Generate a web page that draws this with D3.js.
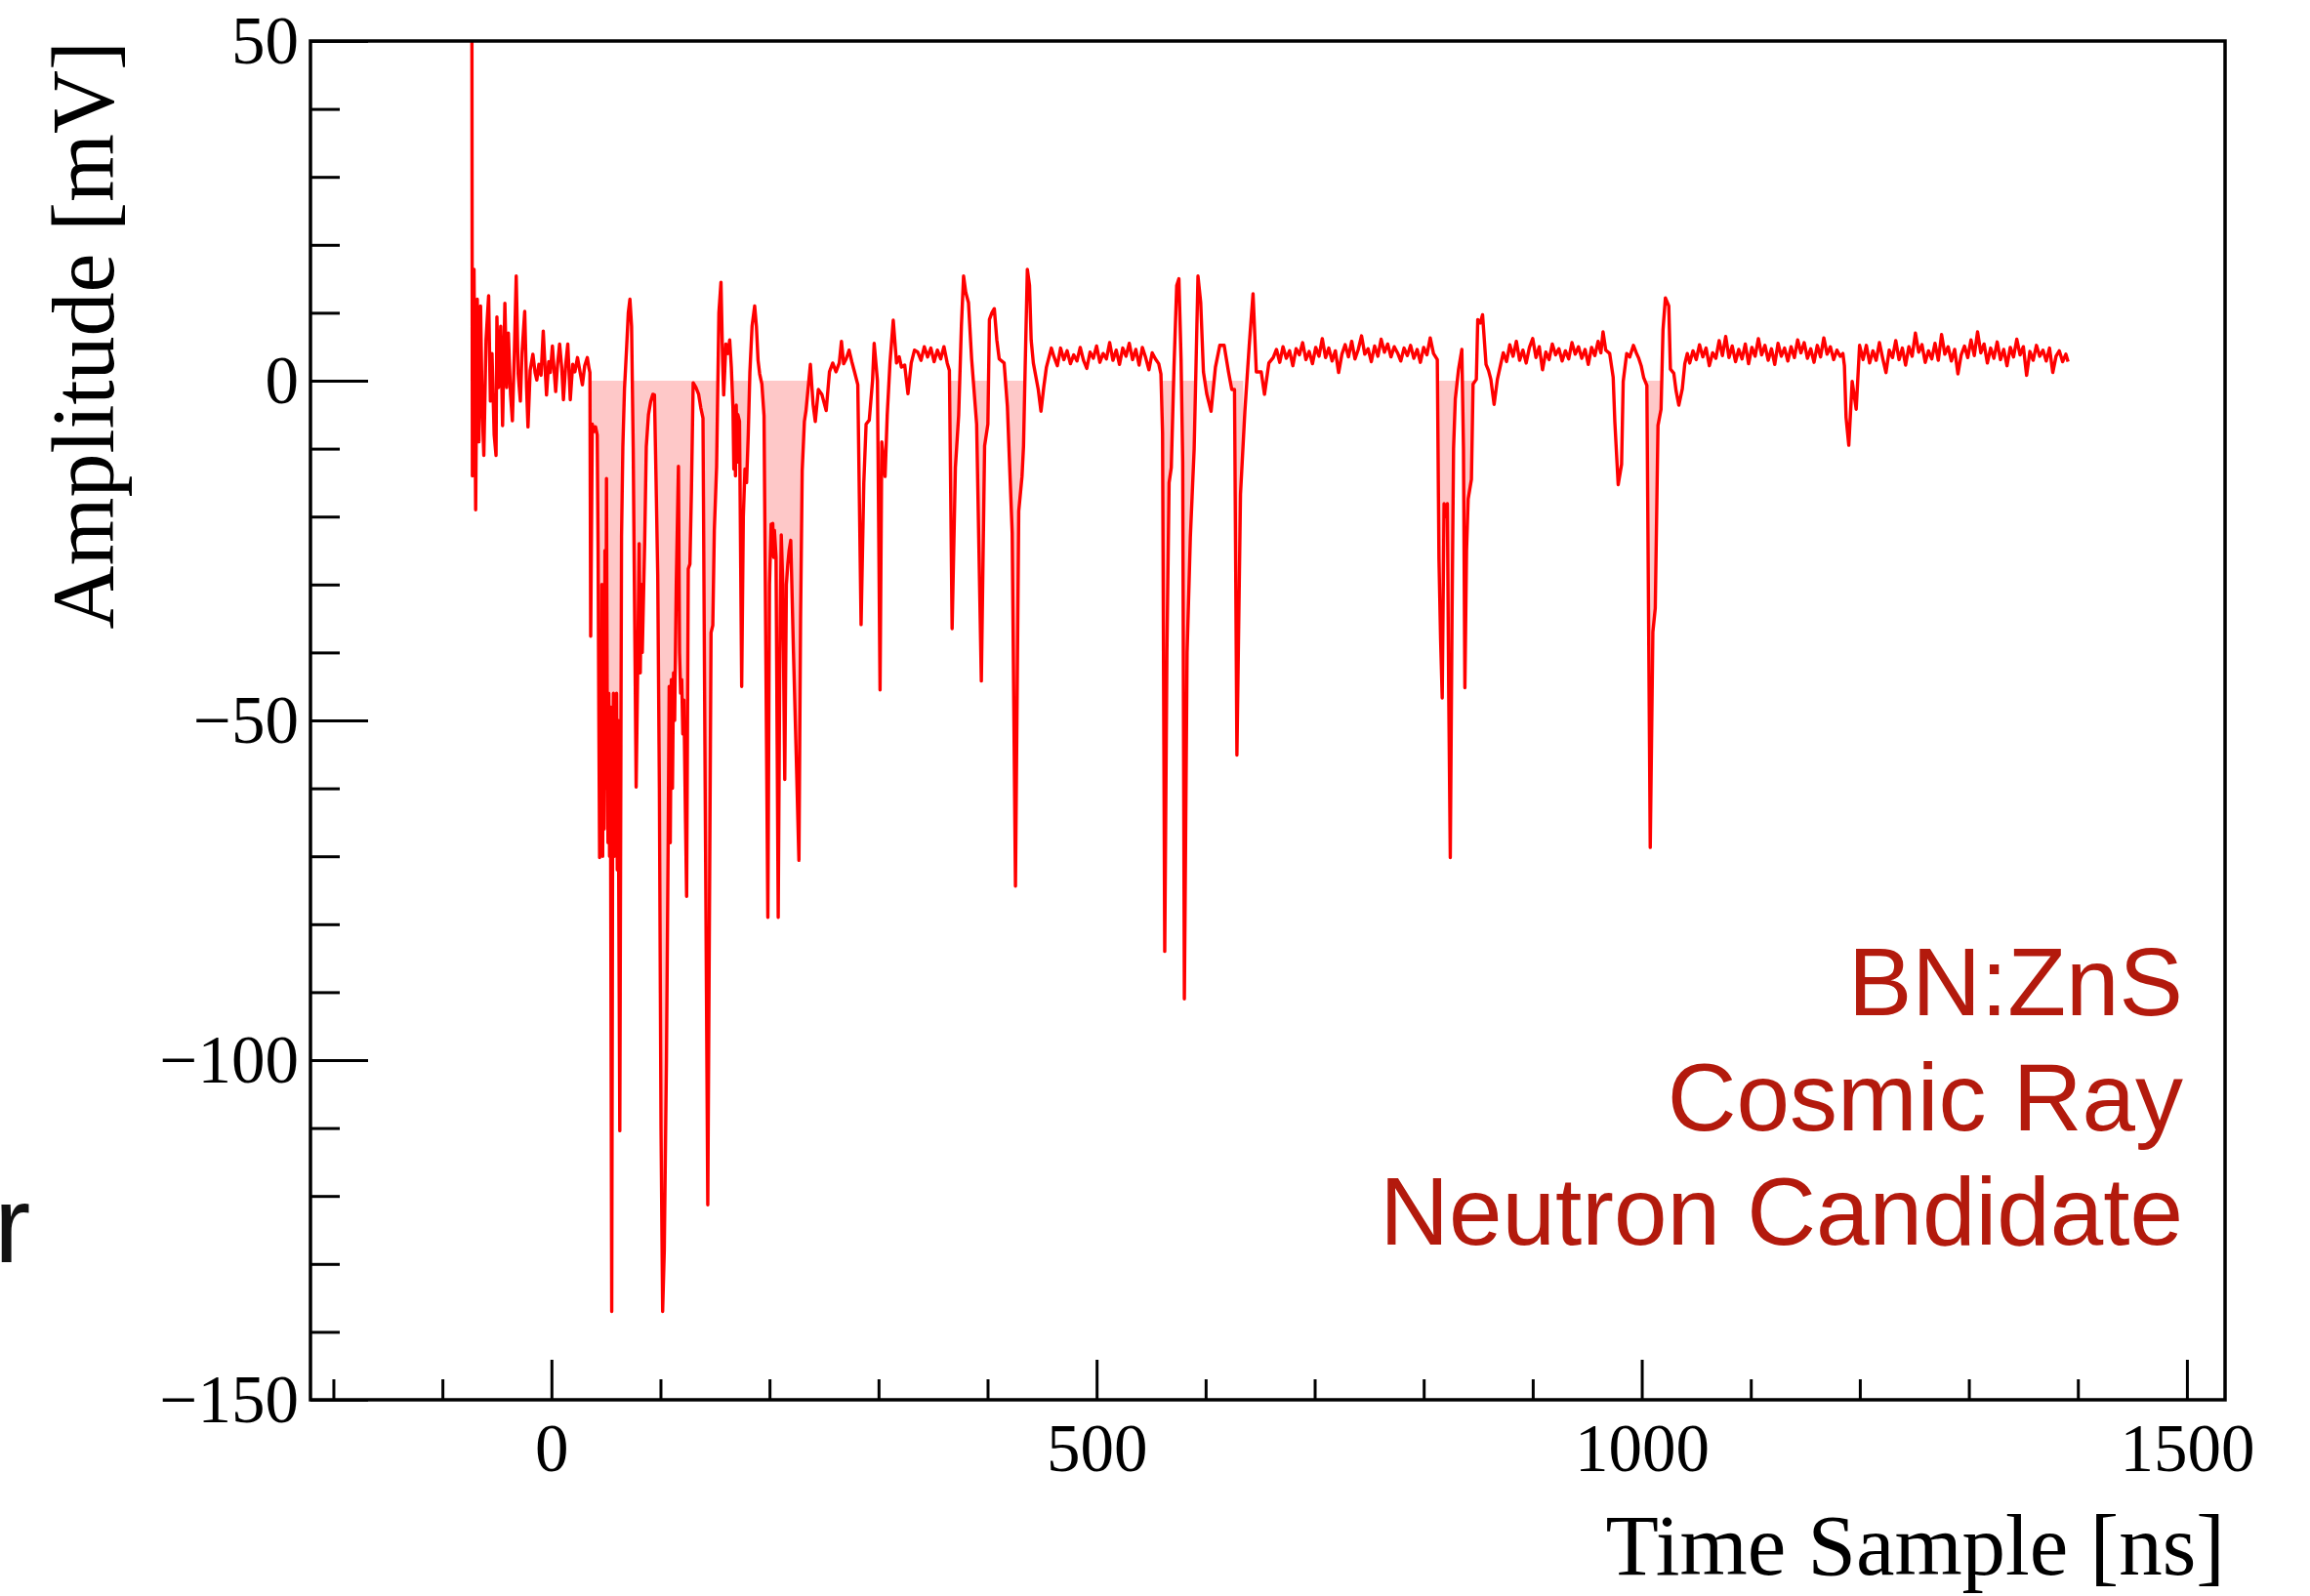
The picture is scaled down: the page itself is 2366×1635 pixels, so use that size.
<!DOCTYPE html>
<html><head><meta charset="utf-8">
<script src="https://cdn.jsdelivr.net/npm/d3@7"></script>
<style>html,body{margin:0;padding:0;background:#fff;}svg{display:block;}</style>
</head><body>
<script>
// ---------------- data (time in ns, amplitude in mV) ----------------
const startRinging = [[-73,60],[-72.5,-14],[-71,16.4],[-69.5,-19],[-68,12],[-66.5,-9],[-65,11],[-63.5,-4],[-62,-11],[-60,6],[-57.6,12.5],[-56,-3],[-54.5,4],[-52.5,-8],[-50.8,-11],[-50,9.4],[-48.5,-1],[-46.5,8],[-44.8,-6.6],[-42.7,11.4],[-41,-1],[-39.5,7],[-37.5,-2],[-35.8,-5.9],[-34,4],[-32.3,15.4],[-30.5,1],[-28.5,-3],[-27,4],[-24.5,10.2],[-22.8,-1],[-21.5,-6.8],[-19.5,1.5],[-17,3.9],[-15,1.2],[-13.4,0.1],[-11.5,2.4],[-9.5,0.8],[-7.5,7.3],[-6,2.5],[-4.5,-2.1],[-2.5,2.8],[-1,1.2],[0.9,5.1],[2.5,1.5],[3.9,-1.6],[5.5,2.2],[7.5,5.4],[9.5,1.8],[11,-2.8],[13,2.2],[15,5.4],[17.3,-2.8],[19.5,2.4],[21.5,1.3],[23.9,3.4],[26,1.5],[28.4,-0.6],[30.5,2.2],[32.9,3.4],[34.5,1.8],[35.3,1.2]];
const burstCluster = [[36,-37.6],[37.5,-6.4],[39,-7.5],[40.5,-6.8],[42,-8],[42.8,-25],[43.5,-50],[44.2,-70.2],[44.9,-45],[45.6,-68],[46.3,-30],[47,-70],[47.7,-40],[48.4,-66],[49.1,-25],[49.8,-60],[50.5,-14.4],[51.2,-50],[51.9,-68],[52.6,-46],[53.3,-70],[54,-48],[55.3,-137],[56.2,-60],[56.9,-46],[57.6,-70],[58.3,-47],[59,-68],[59.7,-46],[60.4,-72],[61.1,-50],[62.7,-110.4],[64.3,-23],[65.5,-9.8],[67,-1.2],[69,5],[70.5,10],[72,12],[73.5,8],[75,-10],[77.7,-59.8],[79,-43.7],[80.5,-24],[81.5,-43],[82.5,-30],[83.3,-40],[84,-35],[85.5,-24],[87,-9.7],[89,-5],[91,-3.1],[93,-2],[94.5,-2.1],[96,-15],[97.5,-28.6],[99,-60],[100.5,-110],[102,-137],[103.5,-128],[105.5,-100],[107,-69.3],[108,-45],[109,-68],[110,-44],[111,-60],[112,-43],[113,-50],[114.5,-30],[116.5,-12.6],[117.5,-40],[118.5,-46],[119.5,-44],[120.5,-52],[121.5,-47],[123,-65],[124,-75.9],[125.5,-27.7],[127,-27],[128.4,-16.3],[130,-0.3],[132.5,-1],[135,-2],[137,-4],[139,-5.5],[141,-60],[143.4,-121.3],[146.4,-37.1],[148,-36],[149.4,-22],[151.5,-12.6],[153.6,10],[155.5,14.5],[157,3],[158,-2.1],[160,5.4],[162,4],[163.5,6],[165,2],[166.5,-4],[167.3,-13],[168,-5],[168.8,-14],[169.5,-3.6],[170.3,-12],[171,-5],[172.5,-6],[174.5,-45],[176,-20],[177.5,-13],[179,-15],[180.5,-8],[182,1.2],[184,8],[186.4,11],[188,8],[189.5,3],[191,1],[193,-0.5],[195,-5.2],[198.5,-79],[200,-30],[201.5,-21.1],[202.3,-25],[203,-21],[203.8,-26],[204.5,-22],[206,-26],[208,-79],[209.5,-40],[210.8,-22.7],[212.2,-30],[214,-58.7],[215.5,-30],[216.8,-27],[218,-25],[219.5,-23.5],[222,-40],[224.5,-55],[227,-70.6],[228.5,-35],[230,-13.2],[232,-6],[233.5,-4.4],[235.5,-1],[237.5,2.4]];
const midPulses = [[240,-3.5],[242,-6],[244.8,-1.3],[248,-2],[252,-4.4],[255,1.3],[258,2.6],[261,1.3],[264,2.6],[266,5.8],[268,2.5],[270.3,3.2],[273,4.5],[275.5,2.8],[278,1.3],[281,-0.6],[284,-35.9],[286.5,-15],[288.6,-6.4],[291.5,-5.8],[294.5,0],[296,5.5],[299,0],[301.4,-45.5],[303,-9],[306,-14.1],[308,-5],[310.5,2.6],[313.5,8.9],[316.5,2.6],[319,3.5],[321,2.0],[324,2.3],[327,-1.9],[330,2.6],[333,4.5],[336,4.2],[339,3],[342,5],[345,3.5],[348,4.8],[351,2.8],[354,4.5],[357,3.2],[360,5],[363,2.6],[365,1.5],[367.5,-36.5],[370.5,-12.8],[373.5,-5.1],[376,8],[378,15.4],[380,13],[382.5,11.5],[385.4,3.2],[390,-6.4],[394.3,-44.2],[397.3,-9.6],[400.3,-6.4],[401.7,9],[404,10],[406.2,10.6],[408.5,6],[410.7,3.2],[415.2,2.6],[418.2,-3.8],[422.6,-22.4],[425.6,-74.4],[428.6,-19.2],[431.6,-14.1],[433,-9.6],[434.5,2],[436.5,16.4],[438.5,14],[440,6],[442,2.6],[446.5,-1.3],[449,-4.5],[451.5,-1],[454,2],[458.5,4.8]];
const baselineB = [[461,3.5],[464,2.2],[467,4.8],[470,3.1],[473,4.4],[476,2.5],[479,3.8],[482,2.9],[485,4.9],[488,3.0],[491,1.8],[494,4.2],[497,3.3],[500,5.1],[503,2.7],[506,4.0],[509,3.2],[512,5.6],[515,3.0],[518,4.5],[521,2.4],[524,4.8],[527,3.6],[530,5.5],[533,3.1],[536,4.6],[539,2.3],[542,4.9],[545,3.4],[548,1.6],[551,4.1],[554,3.2],[557,2.5]];
const pulseGroupC = [[559,1],[560.5,-7.7],[562.5,-84],[564.5,-40],[566.5,-15],[568.5,-12.8],[571,2],[573.5,14],[575.5,15],[577.5,3],[579,-12],[580.5,-91],[583,-40],[586,-23],[589.5,-10],[593,15.4],[595.5,11.5],[598,1.3],[601,-1.9],[605,-4.5],[609,2],[613,5.2],[617,5.2],[621,1.3],[624,-1.3],[626.5,-1.3],[628.7,-55.1],[632,-16.7],[636,-4.5],[640,5.2],[643.5,12.8],[646.5,1.3],[651,1.3],[654,-2],[658,2.6]];
const baselineC = [[662,3.4],[665,4.6],[668,2.7],[671,5.0],[674,3.3],[677,4.4],[680,2.2],[683,4.7],[686,3.8],[689,5.6],[692,3.1],[695,4.3],[698,2.5],[701,4.9],[704,3.6],[707,6.2],[710,3.4],[713,4.8],[716,2.9],[719,4.4],[722,1.2],[725,3.9],[728,5.3],[731,3.5],[734,5.8],[737,3.2],[740,4.6],[743,6.6],[746,3.9],[749,4.7],[752,2.8],[755,5.1],[758,3.6],[761,6.1],[764,4.2],[767,5.4],[770,3.5],[773,5.0],[776,4.1],[779,2.9],[782,4.8],[785,3.7],[788,5.2],[791,3.3],[794,4.6],[797,2.7],[800,4.9],[803,3.8],[806,6.3],[809,4.0]];
const pulseGroupD = [[812.5,3.1],[814,-26.2],[815.5,-38],[817,-46.7],[818.7,-18.1],[820.2,-20],[821.7,-18.1],[823,-46.7],[824.4,-70.2],[826,-35],[827.4,-10],[829,-2.7],[832,1.7],[835,4.6],[836.5,-10],[837.8,-45.2],[839.3,-25],[840.8,-17.4],[843.8,-14.5],[845.3,-0.5],[848.3,0.2],[849.6,9],[852,8.5],[854,9.7],[857.2,2.4],[859.5,1.5],[861.6,0.2],[864.6,-3.5],[867.6,0.2],[870.6,2.4]];
const baselineD = [[873,4.1],[876,2.8],[879,5.3],[882,3.6],[885,5.8],[888,3.0],[891,4.5],[894,2.6],[897,4.9],[900,6.2],[903,3.4],[906,5.0],[909,1.6],[912,4.2],[915,3.1],[918,5.4],[921,3.8],[924,4.7],[927,2.9],[930,4.4],[933,3.2],[936,5.6],[939,3.9],[942,5.0],[945,3.3],[948,4.6],[951,2.4],[954,4.9],[957,3.7],[960,5.8],[962.5,4.1],[964.5,7.2],[967,4.5],[970.6,4]];
const pulseGroupE = [[973.8,0.5],[975.3,-6],[978.4,-15.3],[981.5,-12.3],[983,-0.1],[986.2,4],[989,3.5],[992.4,5.2],[995,4.1],[997,3.4],[999.5,2.2],[1001.7,0.5],[1004.7,-0.7],[1007.8,-68.7],[1010.2,-37],[1012.4,-33.5],[1014.9,-6.6],[1017.7,-4.2],[1019.5,7.5],[1021.7,12.2],[1024.8,11],[1026.3,1.7],[1029.4,1.1],[1031.5,-1.5],[1034,-3.6],[1037.2,-1.2],[1039.5,2.5],[1041.8,4]];
const baselineE = [[1044,2.6],[1047,4.4],[1050,3.1],[1053,5.3],[1056,3.5],[1059,4.8],[1062,2.2],[1065,4.1],[1068,3.3],[1071,5.9],[1074,3.7],[1077,6.5],[1080,3.4],[1083,5.1],[1086,2.8],[1089,4.6],[1092,3.2],[1095,5.4],[1098,2.5],[1101,4.9],[1104,3.6],[1107,6.2],[1110,3.8],[1113,5.2],[1116,3.0],[1119,4.7],[1122,2.4],[1125,5.5],[1128,3.6],[1131,4.8],[1134,2.9],[1137,5.0],[1140,3.4],[1143,6.0],[1146,4.1],[1149,5.6],[1152,3.3],[1155,4.7],[1158,2.7],[1161,5.2],[1164,3.5],[1167,6.3],[1170,3.9],[1173,5.0],[1176,3.1],[1179,4.5],[1182,3.6],[1184.5,4.0]];
const smallDip = [[1185.9,2.2],[1187.4,-5.4],[1189.9,-9.5],[1193,-0.1],[1196.7,-4.2],[1199.8,5.2]];
const baselineF = [[1203,3.1],[1206,5.2],[1209,2.6],[1212,4.4],[1215,3.0],[1218,5.6],[1221,3.3],[1224,1.2],[1227,4.5],[1230,3.4],[1233,5.9],[1236,3.1],[1239,4.8],[1242,2.3],[1245,5.0],[1248,3.6],[1251,7.0],[1254,4.2],[1257,5.3],[1260,2.7],[1263,4.4],[1266,3.2],[1269,5.5],[1272,3.0],[1275,6.8],[1278,3.9],[1281,5.0],[1284,2.9],[1287,4.6],[1290,1.0],[1293,3.8],[1296,5.1],[1299,3.4],[1302,6.0],[1305,3.7],[1308,7.2],[1311,4.1],[1314,5.4],[1317,2.6],[1320,4.8],[1323,3.3],[1326,5.7],[1329,3.1],[1332,4.6],[1335,2.2],[1338,4.9],[1341,3.5],[1344,6.1],[1347,3.8],[1350,5.0],[1353,0.8],[1356,4.3],[1359,3.0],[1362,5.2],[1365,3.6],[1368,4.5],[1371,2.9],[1374,4.8],[1377,1.2],[1380,3.6],[1383,4.4],[1386,2.8],[1389,3.9],[1391,2.8]];

// integration windows (ns) shaded between 0 and the waveform
const fillWindows = [[35.5,236.5],[365.5,435],[558.5,634.5],[813.5,847],[1004.5,1018.5]];

const xDomain = [-221, 1535];
const yDomain = [-150, 50];
const xMajorTicks = [0, 500, 1000, 1500];
const xMinorTicks = [-200,-100,100,200,300,400,600,700,800,900,1100,1200,1300,1400];
const yMajorTicks = [-150, -100, -50, 0, 50];
const yMinorTicks = [-140,-130,-120,-110,-90,-80,-70,-60,-40,-30,-20,-10,10,20,30,40];
const xTitle = "Time Sample [ns]";
const yTitle = "Amplitude [mV]";
const notes = ["BN:ZnS", "Cosmic Ray", "Neutron Candidate"];

// ---------------- drawing ----------------
const samples = [].concat(startRinging, burstCluster, midPulses, baselineB, pulseGroupC, baselineC,
  pulseGroupD, baselineD, pulseGroupE, baselineE, smallDip, baselineF).sort((a,b)=>a[0]-b[0]);

const W = 2366, H = 1635;
const P = {left:318, right:2279, top:42, bottom:1434};
const serif = "'Liberation Serif','Times New Roman',Times,serif";
const sans = "'Liberation Sans',Arial,Helvetica,sans-serif";

const x = d3.scaleLinear().domain(xDomain).range([P.left, P.right]);
const y = d3.scaleLinear().domain(yDomain).range([P.bottom, P.top]);

const svg = d3.select("body").append("svg").attr("width", W).attr("height", H);
svg.append("rect").attr("width", W).attr("height", H).attr("fill", "#fff");

const defs = svg.append("defs");
defs.append("clipPath").attr("id","plotClip").append("rect")
  .attr("x", P.left).attr("y", P.top).attr("width", P.right-P.left).attr("height", P.bottom-P.top);
defs.append("clipPath").attr("id","belowZero").append("rect")
  .attr("x", P.left).attr("y", y(0)).attr("width", P.right-P.left).attr("height", P.bottom-y(0));

function valueAt(t){
  for (let i=1;i<samples.length;i++){
    const a=samples[i-1], b=samples[i];
    if (t>=a[0] && t<=b[0]) return a[1] + (b[1]-a[1])*(t-a[0])/(b[0]-a[0]);
  }
  return 0;
}

const area = d3.area().x(d=>x(d[0])).y0(y(0)).y1(d=>y(d[1]));
const fillG = svg.append("g").attr("clip-path","url(#belowZero)");
fillWindows.forEach(([a,b])=>{
  const pts = [[a, valueAt(a)]].concat(samples.filter(d=>d[0]>a && d[0]<b), [[b, valueAt(b)]]);
  fillG.append("path").attr("d", area(pts)).attr("fill", "#fec8c8").attr("stroke","none");
});

const line = d3.line().x(d=>x(d[0])).y(d=>y(d[1]));
svg.append("g").attr("clip-path","url(#plotClip)")
  .append("path").attr("d", line(samples))
  .attr("fill","none").attr("stroke","#ff0000").attr("stroke-width",3.4).attr("stroke-linejoin","round");

const fmt = d => d < 0 ? "\u2212" + Math.abs(d) : String(d);

// x axis (minor and major ticks in separate groups)
svg.append("g").attr("transform", `translate(0,${P.bottom})`)
  .call(d3.axisBottom(x).tickValues(xMinorTicks).tickSize(-21).tickFormat(""));
svg.append("g").attr("transform", `translate(0,${P.bottom})`)
  .call(d3.axisBottom(x).tickValues(xMajorTicks).tickSize(-41).tickPadding(24).tickFormat(fmt));
// y axis
svg.append("g").attr("transform", `translate(${P.left},0)`)
  .call(d3.axisLeft(y).tickValues(yMinorTicks).tickSize(-30).tickFormat(""));
svg.append("g").attr("transform", `translate(${P.left},0)`)
  .call(d3.axisLeft(y).tickValues(yMajorTicks).tickSize(-59).tickPadding(12).tickFormat(fmt));

svg.selectAll(".domain").remove();
svg.selectAll(".tick line").attr("stroke","#000").attr("stroke-width",3);
svg.selectAll(".tick text").attr("font-family", serif).attr("font-size", 69).attr("fill","#000");

// frame
svg.append("rect").attr("x",P.left).attr("y",P.top).attr("width",P.right-P.left).attr("height",P.bottom-P.top)
  .attr("fill","none").attr("stroke","#000").attr("stroke-width",3.5);

// axis titles
svg.append("text").attr("x", P.right).attr("y", 1613).attr("text-anchor","end")
  .attr("font-family", serif).attr("font-size", 89).attr("fill","#000").text(xTitle);
svg.append("text").attr("transform", `translate(116,${P.top}) rotate(-90)`).attr("text-anchor","end")
  .attr("font-family", serif).attr("font-size", 90).attr("fill","#000").text(yTitle);

// annotation
const noteY = [1040, 1158, 1275];
notes.forEach((t,i)=>{
  svg.append("text").attr("x", 2236).attr("y", noteY[i]).attr("text-anchor","end")
    .attr("font-family", sans).attr("font-size", 98).attr("fill","#b31a0d").text(t);
});

// fragment of neighbouring text cropped at the left edge (as in the reference)
svg.append("text").attr("x", -6).attr("y", 1293).attr("font-family", sans)
  .attr("font-size", 112).attr("fill","#111").text("r");
</script>
</body></html>
